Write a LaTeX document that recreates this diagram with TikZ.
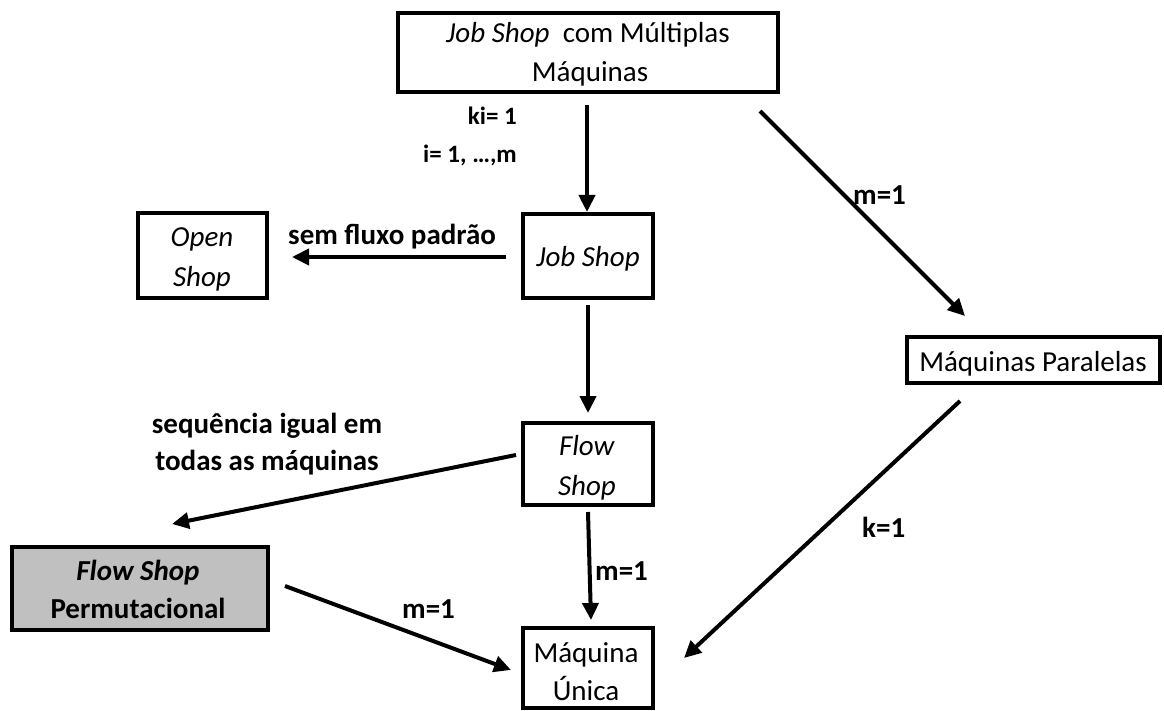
\documentclass[tikz,border=0pt]{standalone}
\usepackage{fontspec}
\setmainfont{Carlito}
\usetikzlibrary{arrows.meta,calc}
\definecolor{boxgray}{RGB}{192,192,192}

\begin{document}
\begin{tikzpicture}[x=1pt,y=-1pt,
  box/.style={draw, line width=4pt, inner sep=0pt},
  txt/.style={inner sep=0pt, anchor=base, font=\fontsize{29}{35}\selectfont},
  lbl/.style={inner sep=0pt, anchor=base west, font=\fontsize{29}{35}\selectfont\bfseries},
  smalllbl/.style={inner sep=0pt, anchor=base east, font=\fontsize{25}{30}\selectfont\bfseries},
  arr/.style={line width=4pt, -{Triangle[length=17pt,width=16pt]}},
]
\useasboundingbox (0,0) rectangle (1164,711);

% boxes
\node[box, minimum width=380pt, minimum height=79pt] (top) at (588,52.5) {};
\node[box, minimum width=130pt, minimum height=84pt] (js) at (588,256) {};
\node[box, minimum width=129pt, minimum height=85pt] (open) at (202.5,255.5) {};
\node[box, minimum width=130pt, minimum height=82pt] (fs) at (588,464) {};
\node[box, fill=boxgray, minimum width=256pt, minimum height=83pt] (fsp) at (140,588.5) {};
\node[box, minimum width=130pt, minimum height=80pt] (mu) at (588,668) {};
\node[box, minimum width=253pt, minimum height=46pt] (mp) at (1033.5,360) {};

% box texts
\node[txt] (topA) at (588,43) {\textit{Job Shop}\ \ com Múltiplas};
\node[txt] (topB) at (590,82) {Máquinas};
\node[txt] (jsA) at (588,266) {\textit{Job Shop}};
\node[txt] (openA) at (202,247) {\textit{Open}};
\node[txt] (openB) at (202,287) {\textit{Shop}};
\node[txt] (fsA) at (587,455) {\textit{Flow}};
\node[txt] (fsB) at (587,495) {\textit{Shop}};
\node[txt, font=\fontsize{29}{35}\selectfont\bfseries] (fspA) at (138,580) {\textit{Flow Shop}};
\node[txt, font=\fontsize{29}{35}\selectfont\bfseries] (fspB) at (138,618) {Permutacional};
\node[txt] (muA) at (586,662) {Máquina};
\node[txt] (muB) at (586,700) {Única};
\node[txt] (mpA) at (1033,371) {Máquinas Paralelas};

% connectors
\draw[arr] ($(top.south)+(-1,11)$) -- ($(js.north)+(-1,0)$);
\draw[arr] ($(js.west)+(-15,1)$) -- ($(open.east)+(23,1.5)$);
\draw[arr] ($(js.south)+(0,5)$) -- ($(fs.north)+(0,-8)$);
\draw[arr] ($(fs.west)+(-5,-9)$) -- ($(fsp.north)+(32,-21)$);
\draw[arr] ($(fs.south)+(0,5)$) -- ($(mu.north)+(3,-6)$);
\draw[arr] ($(fsp.east)+(15,-2.5)$) -- ($(mu.west)+(-10,2)$);
\draw[arr] ($(top.south east)+(-20,17)$) -- ($(mp.north west)+(60,-19)$);
\draw[arr] ($(mp.south west)+(55,16)$) -- ($(mu.east)+(29,-10)$);

% connector labels
\node[smalllbl] (ki) at (517,125) {ki= 1};
\node[smalllbl] (irange) at (517,163) {i= 1, …,m};
\node[lbl] (semfluxo) at (288,245) {sem fluxo padrão};
\node[txt, font=\fontsize{29}{35}\selectfont\bfseries] (seqA) at (267,433) {sequência igual em};
\node[txt, font=\fontsize{29}{35}\selectfont\bfseries] (seqB) at (267,470) {todas as máquinas};
\node[lbl] (m1a) at (853,205) {m=1};
\node[lbl] (m1b) at (595,580) {m=1};
\node[lbl] (m1c) at (402,618) {m=1};
\node[lbl] (k1) at (862,537) {k=1};
\end{tikzpicture}
\end{document}
